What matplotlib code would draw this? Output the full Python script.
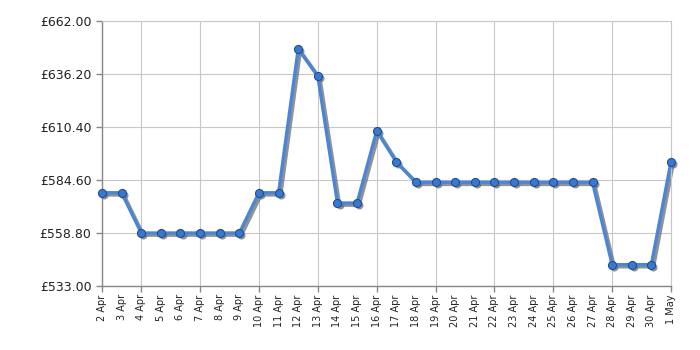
import matplotlib
matplotlib.use("Agg")
import matplotlib.pyplot as plt
import matplotlib.transforms as mtransforms

dates = ["2 Apr", "3 Apr", "4 Apr", "5 Apr", "6 Apr", "7 Apr", "8 Apr", "9 Apr", "10 Apr",
         "11 Apr", "12 Apr", "13 Apr", "14 Apr", "15 Apr", "16 Apr", "17 Apr", "18 Apr",
         "19 Apr", "20 Apr", "21 Apr", "22 Apr", "23 Apr", "24 Apr", "25 Apr", "26 Apr",
         "27 Apr", "28 Apr", "29 Apr", "30 Apr", "1 May"]
prices = [578.4, 578.4, 558.8, 558.8, 558.8, 558.8, 558.8, 558.8, 578.4,
          578.4, 648.4, 635.1, 573.4, 573.4, 608.5, 593.4, 583.5,
          583.5, 583.5, 583.5, 583.5, 583.5, 583.5, 583.5, 583.5,
          583.5, 543.4, 543.4, 543.4, 593.5]
yticks = [533.0, 558.8, 584.6, 610.4, 636.2, 662.0]

fig = plt.figure(figsize=(7, 3.5), dpi=100)
ax = fig.add_axes([102/700, 1 - 286/350, (671 - 102)/700, (286 - 21)/350])

x = list(range(len(dates)))
shadow_tr = mtransforms.offset_copy(ax.transData, fig=fig, x=1.5, y=-1.5, units="points")
ax.plot(x, prices, color="#6e6e6e", lw=2.6, alpha=0.75, marker="o", ms=5.8,
        markeredgewidth=0, solid_joinstyle="round", transform=shadow_tr, zorder=2,
        clip_on=False)
ax.plot(x, prices, color="#4a86d8", lw=2.4, marker="o", ms=5.8,
        markerfacecolor="#3a78d0", markeredgecolor="#1f4f8f", markeredgewidth=0.8,
        solid_joinstyle="round", zorder=3, clip_on=False)

ax.set_xlim(0, len(dates) - 1)
ax.set_ylim(533, 662)
ax.set_yticks(yticks)
ax.set_yticklabels([f"£{v:.2f}" for v in yticks], fontsize=9, color="#222222")

major = [i for i in x if i % 3 == 2] + [0, len(dates) - 1]
major = sorted(set(major))
minor = [i for i in x if i not in major]
ax.set_xticks(major)
ax.set_xticklabels([dates[i] for i in major], rotation=90, fontsize=7, color="#222222")
ax.set_xticks(minor, minor=True)
ax.set_xticklabels([dates[i] for i in minor], minor=True, rotation=90, fontsize=7, color="#222222")
ax.tick_params(axis="x", which="minor", length=0, pad=6)
ax.tick_params(axis="x", which="major", length=4, width=1, color="#888888", pad=2)
ax.tick_params(axis="y", length=4, width=1, color="#888888")

ax.grid(True, which="major", color="#c8c8c8", lw=0.8)
ax.set_axisbelow(True)
for s in ["top", "right"]:
    ax.spines[s].set_color("#c8c8c8")
    ax.spines[s].set_linewidth(0.8)
for s in ["left", "bottom"]:
    ax.spines[s].set_color("#888888")
    ax.spines[s].set_linewidth(1.0)

fig.savefig("out.png", dpi=100)
